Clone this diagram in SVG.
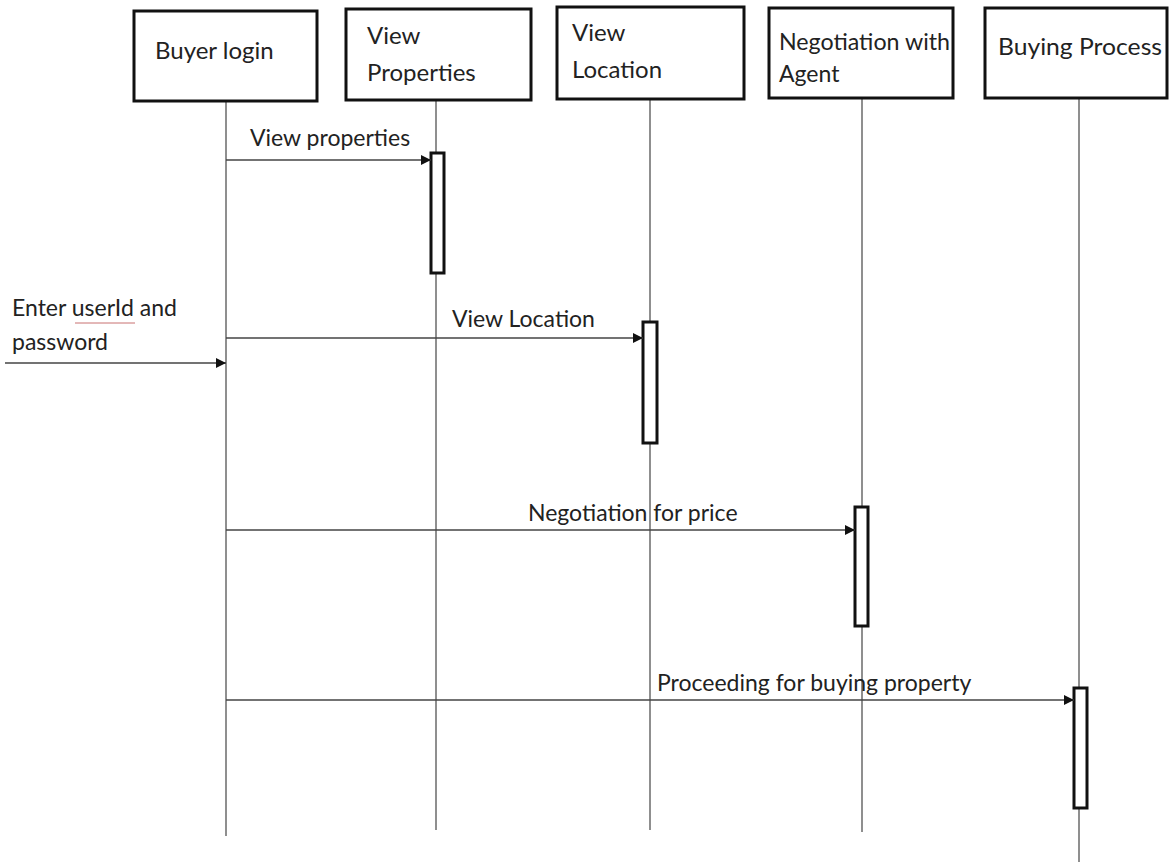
<svg xmlns="http://www.w3.org/2000/svg" width="1172" height="867" viewBox="0 0 1172 867">
  <style>
    .box { fill: #ffffff; stroke: #111111; stroke-width: 3; }
    .life { stroke: #6a6a6a; stroke-width: 1.5; fill: none; }
    .act { fill: #ffffff; stroke: #111111; stroke-width: 3; }
    .msg { stroke: #444444; stroke-width: 1.5; fill: none; marker-end: url(#arrow); }
    text { font-family: Lato, "Open Sans", "Liberation Sans", sans-serif; font-size: 23px; fill: #222222; }
    .title { font-size: 24px; }
  </style>
  <defs>
    <marker id="arrow" viewBox="0 0 10 10" refX="10" refY="5" markerWidth="10" markerHeight="10" markerUnits="userSpaceOnUse" orient="auto">
      <path d="M0,0 L10,5 L0,10 Z" fill="#111111"/>
    </marker>
  </defs>
  <rect width="1172" height="867" fill="#ffffff"/>

  <!-- lifelines -->
  <g id="lifelines">
    <line class="life" x1="226" y1="102" x2="226" y2="836"/>
    <line class="life" x1="436" y1="100" x2="436" y2="830"/>
    <line class="life" x1="650" y1="100" x2="650" y2="830"/>
    <line class="life" x1="862" y1="98" x2="862" y2="832"/>
    <line class="life" x1="1079" y1="98" x2="1079" y2="862"/>
  </g>

  <!-- participants -->
  <g id="buyer-login">
    <rect class="box" x="134" y="11" width="183" height="90"/>
    <text class="title" x="155" y="59">Buyer login</text>
  </g>
  <g id="view-properties">
    <rect class="box" x="346" y="9" width="185" height="91"/>
    <text class="title" x="367" y="44">View</text>
    <text class="title" x="367" y="81">Properties</text>
  </g>
  <g id="view-location">
    <rect class="box" x="557" y="7" width="187" height="92"/>
    <text class="title" x="572" y="41">View</text>
    <text class="title" x="572" y="78">Location</text>
  </g>
  <g id="negotiation-agent">
    <rect class="box" x="769" y="8" width="184" height="90"/>
    <text x="779" y="50" textLength="171" lengthAdjust="spacingAndGlyphs">Negotiation with</text>
    <text x="779" y="82">Agent</text>
  </g>
  <g id="buying-process">
    <rect class="box" x="985" y="8" width="182" height="90"/>
    <text class="title" x="998" y="55" textLength="164" lengthAdjust="spacingAndGlyphs">Buying Process</text>
  </g>

  <!-- activation bars -->
  <g id="activations">
    <rect class="act" x="431" y="153" width="13" height="120"/>
    <rect class="act" x="643" y="322" width="14" height="121"/>
    <rect class="act" x="855" y="507" width="13" height="119"/>
    <rect class="act" x="1074" y="688" width="13" height="120"/>
  </g>

  <!-- messages -->
  <g id="connectors">
    <line class="msg" x1="226" y1="160" x2="431" y2="160"/>
    <line class="msg" x1="226" y1="338" x2="643" y2="338"/>
    <line class="msg" x1="5" y1="363" x2="226" y2="363"/>
    <line class="msg" x1="226" y1="530" x2="855" y2="530"/>
    <line class="msg" x1="226" y1="700" x2="1074" y2="700"/>
  </g>

  <g id="labels">
    <text x="250" y="146">View properties</text>
    <text x="452" y="327">View Location</text>
    <text x="12" y="316">Enter userId and</text>
    <line x1="75" y1="323" x2="135" y2="323" stroke="#c87070" stroke-width="1"/>
    <text x="12" y="350">password</text>
    <text x="528" y="521">Negotiation for price</text>
    <text x="657" y="691">Proceeding for buying property</text>
  </g>
</svg>
